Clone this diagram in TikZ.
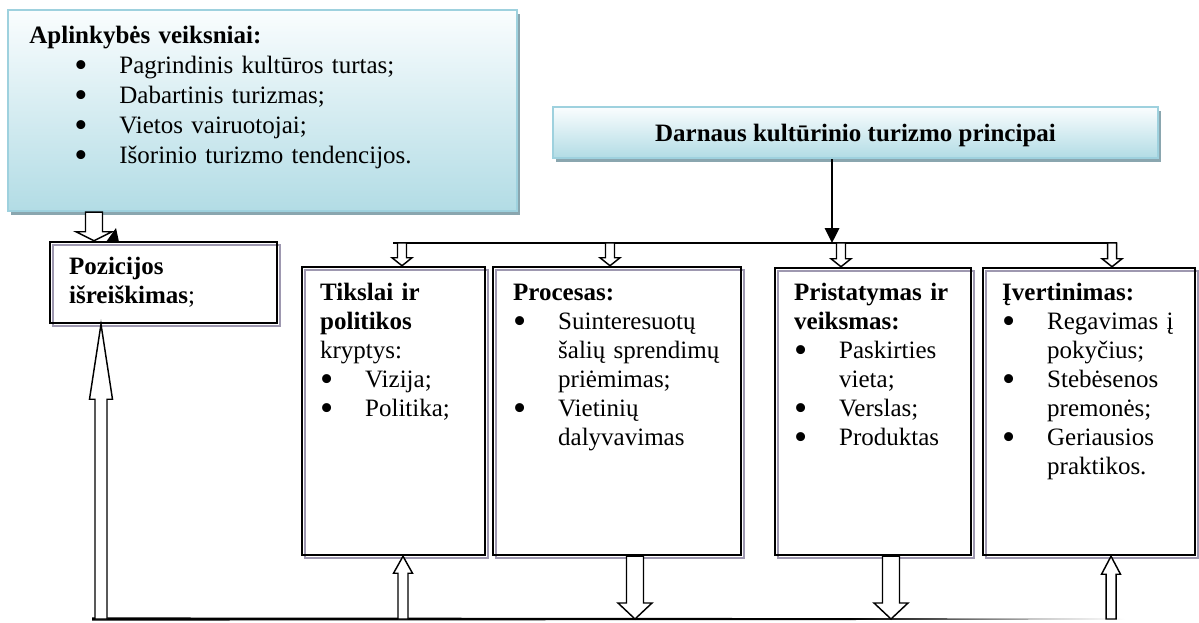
\documentclass[tikz,border=0pt]{standalone}
\usepackage{fontspec}
\setmainfont{Liberation Serif}
\usetikzlibrary{arrows.meta,calc,fit,shadows}
\definecolor{boxborder}{RGB}{158,209,222}
\definecolor{gradtop}{RGB}{250,253,254}
\definecolor{gradbot}{RGB}{178,220,229}
\definecolor{shadowteal}{RGB}{138,166,175}
\definecolor{shadowpurple}{RGB}{158,152,176}
\newcommand{\bul}{\makebox[21.6pt][l]{\smash{\raisebox{-1.8pt}{\scalebox{1.5}{\textbullet}}}}}
\newcommand{\ind}{\hspace*{21.6pt}}
% hollow block arrow: tail, tip, half shaft, half head, head length (px)
\newcommand{\blockarrow}[5]{%
  \coordinate (ba-head) at ($(#2)!#5*0.48pt!(#1)$);
  \draw[blockarr] ($(#1)!#3*0.48pt!90:(#2)$) -- ($(ba-head)!#3*0.48pt!90:(#2)$)
    -- ($(ba-head)!#4*0.48pt!90:(#2)$) -- (#2)
    -- ($(ba-head)!#4*0.48pt!-90:(#2)$) -- ($(ba-head)!#3*0.48pt!-90:(#2)$)
    -- ($(#1)!#3*0.48pt!-90:(#2)$) -- cycle;
}

\begin{document}
\begin{tikzpicture}[
    x=0.48pt, y=-0.48pt,
    bluebox/.style={draw=boxborder, line width=1pt, top color=gradtop, bottom color=gradbot, inner sep=0pt,
      drop shadow={shadow xshift=1.5pt, shadow yshift=-1.9pt, fill=shadowteal, opacity=1}},
    blackbox/.style={draw=black, line width=1.2pt, inner sep=0pt,
      preaction={draw=shadowpurple, line width=1pt, transform canvas={shift={(1.6pt,-1.6pt)}}}},
    txt/.style={anchor=base west, inner sep=0pt, align=left, text width=250pt, font=\fontsize{12}{13.9}\selectfont},
    thinarrow/.style={-{Triangle[length=7.2pt, width=7pt]}, line width=0.7pt},
    blockarr/.style={draw=black, fill=white, line width=0.7pt, line join=miter},
    busline/.style={line width=0.7pt}
]
\useasboundingbox (0,0) rectangle (1199,622);

% boxes
\node[bluebox, fit={(8,10) (517,211)}] (aplink) {};
\node[bluebox, fit={(553,107) (1158,158)}] (darnaus) {};
\node[blackbox, fit={(50,242) (277,323)}] (pozicijos) {};
\node[blackbox, fit={(302,267) (485,555)}] (tikslai) {};
\node[blackbox, fit={(493,267) (741,555)}] (procesas) {};
\node[blackbox, fit={(775,268) (971,555)}] (pristatymas) {};
\node[blackbox, fit={(983,268) (1195,555)}] (ivertinimas) {};

% texts
\node[txt, font=\fontsize{12}{14.4}\selectfont] (aplinkTxt) at ($(aplink.north west)+(22,35)$)
  {\textbf{Aplinkybės veiksniai:}\\
   \hspace*{21.6pt}\bul Pagrindinis kultūros turtas;\\
   \hspace*{21.6pt}\bul Dabartinis turizmas;\\
   \hspace*{21.6pt}\bul Vietos vairuotojai;\\
   \hspace*{21.6pt}\bul Išorinio turizmo tendencijos.};
\node[anchor=base, inner sep=0pt, font=\fontsize{12}{13.9}\selectfont\bfseries] (darnausTxt)
  at ($(darnaus.center)+(0,9.5)$) {Darnaus kultūrinio turizmo principai};
\node[txt] (pozicijosTxt) at ($(pozicijos.north west)+(20,34)$)
  {\textbf{Pozicijos}\\ \textbf{išreiškimas};};
\node[txt] (tikslaiTxt) at ($(tikslai.north west)+(19,35)$)
  {\textbf{Tikslai ir}\\ \textbf{politikos}\\ kryptys:\\ \bul Vizija;\\ \bul Politika;};
\node[txt] (procesasTxt) at ($(procesas.north west)+(21,35)$)
  {\textbf{Procesas:}\\ \bul Suinteresuotų\\ \ind šalių sprendimų\\ \ind priėmimas;\\
   \bul Vietinių\\ \ind dalyvavimas};
\node[txt] (pristatymasTxt) at ($(pristatymas.north west)+(20,34)$)
  {\textbf{Pristatymas ir}\\ \textbf{veiksmas:}\\ \bul Paskirties\\ \ind vieta;\\
   \bul Verslas;\\ \bul Produktas};
\node[txt] (ivertinimasTxt) at ($(ivertinimas.north west)+(20,34)$)
  {\textbf{Įvertinimas:}\\ \bul Regavimas į\\ \ind pokyčius;\\ \bul Stebėsenos\\
   \ind premonės;\\ \bul Geriausios\\ \ind praktikos.};

% bus from the principles box
\coordinate (hub) at (832,243);
\coordinate (busL) at (393,243);
\coordinate (busR) at (1117,243);
\coordinate (bus1) at (402,243);
\coordinate (bus2) at (610,243);
\coordinate (bus3) at (841,243);
\coordinate (bus4) at (1112,243);
\draw[thinarrow] (darnaus.south -| hub) -- (hub);
\draw[busline] (busL) -- (busR);
\coordinate (t1) at (bus1 |- tikslai.north);
\coordinate (t2) at (bus2 |- procesas.north);
\coordinate (t3) at (bus3 |- pristatymas.north);
\coordinate (t4) at (bus4 |- ivertinimas.north);
\blockarrow{bus1}{t1}{4.5}{10}{8}
\blockarrow{bus2}{t2}{4.5}{10}{8}
\blockarrow{bus3}{t3}{4.5}{10}{8}
\blockarrow{bus4}{t4}{4.5}{10}{8}

% environment -> position
\coordinate (a0) at (94,0);
\coordinate (a0t) at (a0 |- aplink.south);
\coordinate (a0p) at (a0 |- pozicijos.north);
\blockarrow{a0t}{a0p}{8.5}{18}{9}
\fill (106,242) -- (119,242) -- (116,228) -- cycle;

% bottom feedback line
\coordinate (baseL) at (92,619);
\coordinate (baseM) at (850,619);
\coordinate (baseR) at (1125,619);
\fill ($(baseL)+(0,-1.6)$) -- ($(baseM)+(0,-0.9)$) -- ($(baseM)+(0,1)$) -- ($(baseL)+(0,1.6)$) -- cycle;
\shade[left color=black, right color=white] ($(baseM)+(0,-0.9)$) -- ($(baseR)+(0,-0.5)$) -- ($(baseR)+(0,0.6)$) -- ($(baseM)+(0,1)$) -- cycle;

\coordinate (r0) at (101,619);
\coordinate (r1) at (403,619);
\coordinate (r2) at (635,619);
\coordinate (r3) at (891,619);
\coordinate (r4) at (1111,619);
\coordinate (p0) at (r0 |- pozicijos.south);
\coordinate (s1) at (r1 |- tikslai.south);
\coordinate (s2) at (r2 |- procesas.south);
\coordinate (s3) at (r3 |- pristatymas.south);
\coordinate (s4) at (r4 |- ivertinimas.south);
\blockarrow{r0}{p0}{6}{11.5}{75}
\blockarrow{r1}{s1}{5}{9.5}{17}
\blockarrow{s2}{r2}{8.5}{17}{16}
\blockarrow{s3}{r3}{8.5}{17}{16}
\blockarrow{r4}{s4}{5}{9.5}{18}
\end{tikzpicture}
\end{document}
